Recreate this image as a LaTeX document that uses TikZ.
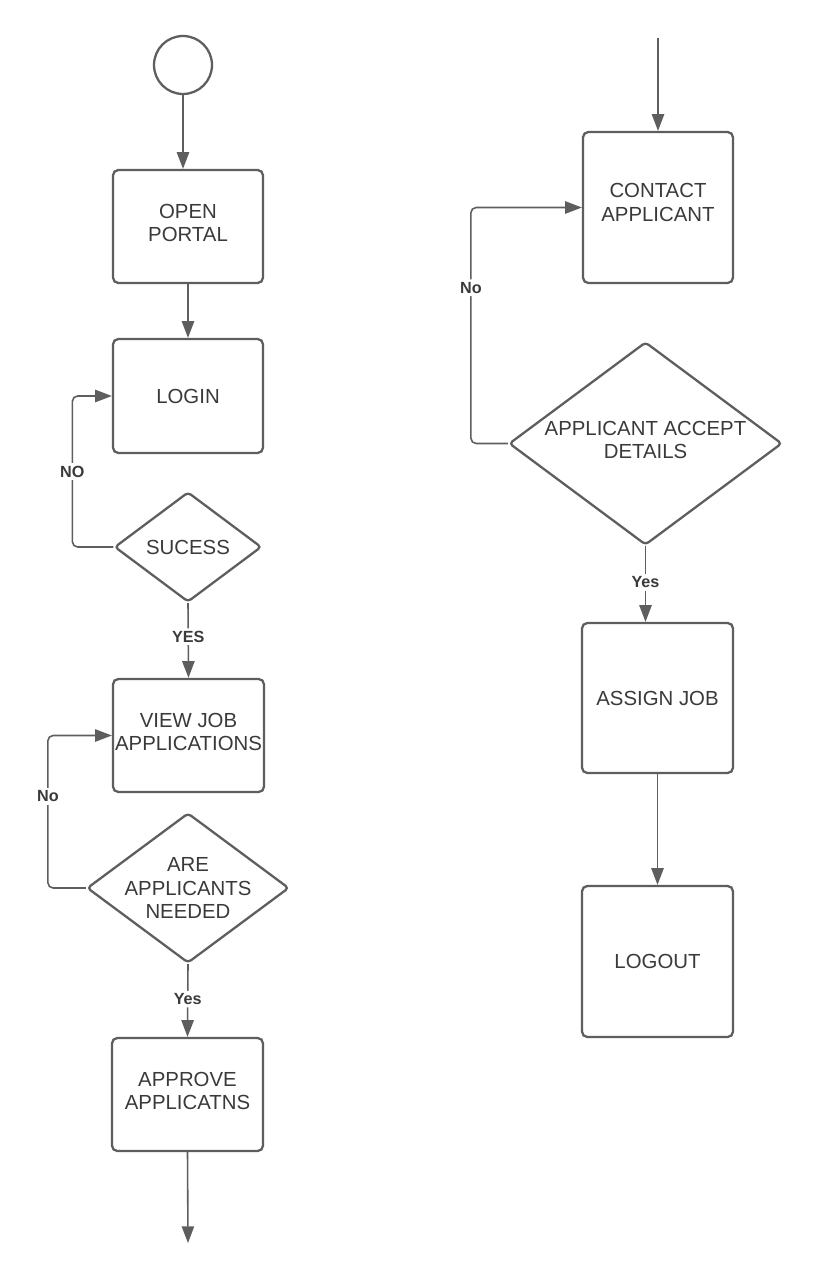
\documentclass[tikz,border=0pt]{standalone}
\usepackage{fontspec}
\setmainfont{Liberation Sans}
\usetikzlibrary{shapes.geometric,arrows.meta}
\definecolor{linec}{HTML}{5E5E5E}
\definecolor{textc}{HTML}{3A3A3A}
\tikzset{
  boxnode/.style={draw=linec, line width=1.3pt, rounded corners=3pt, fill=white,
    align=center, text=textc, inner sep=0pt,
    font=\fontsize{11.6}{13.6}\selectfont},
  decnode/.style={diamond, draw=linec, line width=1.3pt, rounded corners=2pt, fill=white,
    inner sep=0pt},
  dectext/.style={align=center, text=textc, font=\fontsize{11.6}{13.6}\selectfont},
  startnode/.style={circle, draw=linec, line width=1.3pt, minimum size=1.16cm, inner sep=0pt},
  arr/.style={draw=linec, line width=0.9pt, rounded corners=3pt,
    -{Triangle[length=9.5pt,width=7pt]}},
  lbl/.style={fill=white, text=textc, inner sep=1.5pt,
    font=\bfseries\fontsize{9.2}{10}\selectfont}
}
\begin{document}
\begin{tikzpicture}[x=0.02cm,y=-0.02cm]
\useasboundingbox[fill=white] (0,0) rectangle (821,1280);

% left column
\node[startnode] (start) at (183,65) {};
\node[boxnode, minimum width=3cm, minimum height=2.26cm] (open) at (188,226.5) {OPEN\\PORTAL\vspace{4pt}};
\node[boxnode, minimum width=3cm, minimum height=2.28cm] (login) at (188,396) {LOGIN};
\node[decnode, minimum width=2.94cm, minimum height=2.2cm,
      label={[dectext]center:SUCESS}] (sucess) at (188,547) {};
\node[boxnode, minimum width=3.02cm, minimum height=2.26cm] (view) at (188.5,735.5) {VIEW JOB\\APPLICATIONS\vspace{4pt}};
\node[decnode, minimum width=4.04cm, minimum height=3cm,
      label={[dectext]center:ARE\\APPLICANTS\\NEEDED}] (are) at (188,888) {};
\node[boxnode, minimum width=3.02cm, minimum height=2.26cm] (approve) at (187.5,1094.5) {APPROVE\\APPLICATNS\vspace{4pt}};
\coordinate (leftend) at (188,1243);

% right column
\coordinate (righttop) at (658,38);
\node[boxnode, minimum width=3cm, minimum height=3.02cm] (contact) at (658,207.5) {CONTACT\\APPLICANT\vspace{6pt}};
\node[decnode, minimum width=5.46cm, minimum height=4.06cm,
      label={[dectext,yshift=2pt]center:APPLICANT ACCEPT\\DETAILS}] (accept) at (645.5,443.5) {};
\node[boxnode, minimum width=3.02cm, minimum height=3cm] (assign) at (657.5,698) {ASSIGN JOB};
\node[boxnode, minimum width=3.02cm, minimum height=3.02cm] (logout) at (657.5,961.5) {LOGOUT};

% connectors left
\draw[arr] (start.south) -- (start.south |- open.north);
\draw[arr] (open.south) -- (login.north);
\draw[arr] (sucess.west) -- ++(-41,0) |- node[lbl,pos=0.25]{NO} (login.west);
\draw[arr] (sucess.south) -- node[lbl,pos=0.45]{YES} (view.north);
\draw[arr] (are.west) -- ++(-38,0) |- node[lbl,pos=0.3]{No} (view.west);
\draw[arr] (are.south) -- node[lbl,pos=0.48]{Yes} (approve.north);
\draw[arr] (approve.south) -- (leftend);

% connectors right
\draw[arr] (righttop) -- (contact.north);
\draw[arr] (accept.west) -- ++(-37,0) |- node[lbl,pos=0.33]{No} (contact.west);
\draw[arr] (accept.south) -- node[lbl,pos=0.48]{Yes} (accept.south |- assign.north);
\draw[arr] (assign.south) -- (logout.north);
\end{tikzpicture}
\end{document}
